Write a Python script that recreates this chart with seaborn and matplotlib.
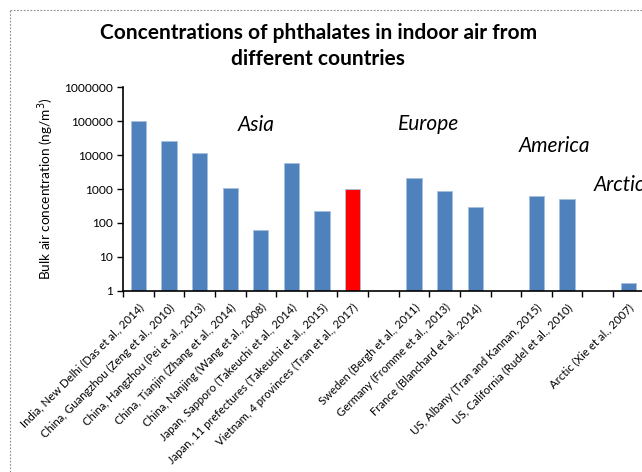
import numpy as np
import pandas as pd
import matplotlib
matplotlib.use("Agg")
import matplotlib.pyplot as plt
from matplotlib.ticker import FixedLocator, FuncFormatter, NullLocator
from matplotlib.lines import Line2D
import seaborn as sns

# --- data ---
categories = [
    "India, New Delhi (Das et al., 2014)",
    "China, Guangzhou (Zeng et al., 2010)",
    "China, Hangzhou (Pei et al., 2013)",
    "China, Tianjin (Zhang et al., 2014)",
    "China, Nanjing (Wang et al., 2008)",
    "Japan, Sapporo (Takeuchi et al., 2014)",
    "Japan, 11 prefectures (Takeuchi et al., 2015)",
    "Vietnam, 4 provinces (Tran et al., 2017)",
    "Sweden (Bergh et al., 2011)",
    "Germany (Fromme et al., 2013)",
    "France (Blanchard et al., 2014)",
    "US, Albany (Tran and Kannan, 2015)",
    "US, California (Rudel et al., 2010)",
    "Arctic (Xie et al., 2007)",
]
concentrations = [103000, 26500, 11800, 1050, 61, 6000, 220, 1000,
                  2080, 890, 300, 630, 520, 1.72]
# axis order, blank slots separate the regions
axis_order = categories[:8] + [" "] + categories[8:11] + ["  "] + categories[11:13] + ["   "] + categories[13:]
regions = ["Asia", "Europe", "America", "Arctic"]

BLUE = "#4F81BD"
RED = "#FF0000"
bar_colors = {c: (RED if c.startswith("Vietnam") else BLUE) for c in categories}

df = pd.DataFrame({"site": categories, "conc": concentrations})

sns.set_theme(style="white")
plt.rcParams["font.family"] = ["Lato", "DejaVu Sans"]
plt.rcParams["text.color"] = "black"
plt.rcParams["axes.labelcolor"] = "black"
plt.rcParams["xtick.color"] = "black"
plt.rcParams["ytick.color"] = "black"

fig = plt.figure(figsize=(6.42, 4.72), dpi=100)
ax = fig.add_axes([123 / 642, 0.384, (643.7 - 123) / 642, 0.815 - 0.384])

sns.barplot(data=df, x="site", y="conc", hue="site", order=axis_order,
            palette=bar_colors, legend=False, width=0.5, saturation=1,
            edgecolor="#A7C0DE", linewidth=0.6, ax=ax)

ax.set_yscale("log")
ax.set_ylim(1, 1e6)
ax.set_xlim(-0.5, len(axis_order) - 0.5)
ax.yaxis.set_major_locator(FixedLocator([10 ** k for k in range(7)]))
ax.yaxis.set_minor_locator(NullLocator())
ax.yaxis.set_major_formatter(FuncFormatter(lambda v, p: f"{v:.0f}"))

# category labels at bar centres, tick marks on slot boundaries
ax.set_xticks(range(len(axis_order)))
ax.set_xticklabels(axis_order, rotation=45, ha="right", rotation_mode="anchor", fontsize=8.2)
ax.set_xticks(np.arange(-0.5, len(axis_order), 1), minor=True)
ax.tick_params(axis="x", which="major", length=0, pad=8)
ax.tick_params(axis="x", which="minor", length=4, width=1, color="black", direction="out", bottom=True)
ax.tick_params(axis="y", which="major", length=4, width=1, color="black", direction="out", left=True,
               labelsize=8.6, pad=3)

for s in ["top", "right"]:
    ax.spines[s].set_visible(False)
for s in ["left", "bottom"]:
    ax.spines[s].set_color("black")
    ax.spines[s].set_linewidth(1.2)

ax.set_xlabel("")
ax.set_ylabel("Bulk air concentration (ng/m$^3$)", fontsize=9.8, labelpad=6)

# region labels
ax.text(3.83, 77000, regions[0], style="italic", fontsize=15, ha="center", va="center")
ax.text(9.47, 83000, regions[1], style="italic", fontsize=15, ha="center", va="center")
ax.text(13.59, 19000, regions[2], style="italic", fontsize=15, ha="center", va="center")
ax.text(14.87, 1300, regions[3], style="italic", fontsize=15, ha="left", va="center", clip_on=False)

fig.text(0.496, 1 - 23 / 472,
         "Concentrations of phthalates in indoor air from\ndifferent countries",
         ha="center", va="top", fontsize=15, fontweight="bold", linespacing=1.4)

# chart area border (cropped)
fig.add_artist(Line2D([10 / 642, 10 / 642], [0, 1 - 10 / 472], color="#8C8C8C", lw=0.8, ls=(0, (1.5, 1.5))))
fig.add_artist(Line2D([10 / 642, 1], [1 - 10 / 472, 1 - 10 / 472], color="#8C8C8C", lw=0.8, ls=(0, (1.5, 1.5))))

fig.savefig("out.png", dpi=100)
